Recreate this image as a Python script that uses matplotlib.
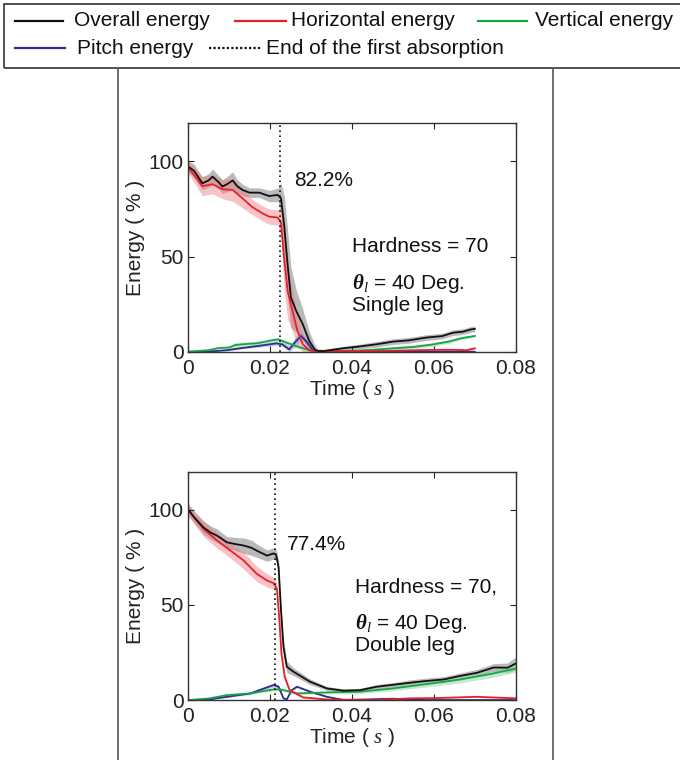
import matplotlib
matplotlib.use("Agg")
import matplotlib.pyplot as plt
import numpy as np
from matplotlib.lines import Line2D
from matplotlib.patches import Rectangle

plt.rcParams['font.family'] = ['Liberation Sans', 'DejaVu Sans']
plt.rcParams['mathtext.fontset'] = 'custom'
plt.rcParams['mathtext.it'] = 'Liberation Serif:italic'
plt.rcParams['mathtext.bf'] = 'Liberation Serif:italic:bold'
plt.rcParams['mathtext.rm'] = 'Liberation Sans'

FS = 15
C_BLACK = '#111111'
C_RED = '#e8202a'
C_GREEN = '#17a548'
C_BLUE = '#2b2f92'

# ---- single leg (top panel) ----
top_black_t = [0, 0.0015, 0.0035, 0.0050, 0.006, 0.0075, 0.0084, 0.0095, 0.0109, 0.012, 0.0133,
               0.015, 0.0174, 0.0198, 0.0219, 0.0227, 0.0235, 0.0243, 0.0251, 0.0264, 0.028,
               0.0296, 0.0309, 0.0317, 0.033, 0.0378, 0.042, 0.046, 0.050, 0.054, 0.058, 0.062,
               0.0647, 0.067, 0.0692, 0.070]
top_black_e = [97.4, 95, 88.5, 90, 92, 89, 86.8, 88, 90, 87, 85,
               83.6, 83.6, 81.8, 82.4, 80.6, 65.6, 46, 28.6, 21.5, 14.5,
               5.6, 1.2, 0.4, 0.3, 1.8, 2.8, 3.9, 5.3, 6, 7.4, 8.2,
               10, 10.5, 11.8, 12]
top_black_sd = [3, 3.5, 3.5, 3.5, 4, 3.5, 3.5, 4, 4.5, 3.5, 3,
                2.5, 2.5, 3, 3.5, 8, 16, 18, 16, 11, 8,
                5, 2.5, 1, 1, 1, 1.2, 1.5, 1.5, 1.5, 1.5, 1.5,
                1.5, 1.5, 1.5, 1.5]

top_red_t = [0, 0.0035, 0.006, 0.0084, 0.0109, 0.0133, 0.0157, 0.0182, 0.0198, 0.0219, 0.0227,
             0.0235, 0.0243, 0.0251, 0.0259, 0.0267, 0.028, 0.0296, 0.032, 0.04, 0.05, 0.06,
             0.065, 0.068, 0.07]
top_red_e = [97, 87, 88, 85.4, 85, 80.6, 76, 72.7, 71, 70.5, 68,
             48, 32, 25, 18, 11, 4, 0.7, 0.3, 0.3, 0.5, 1,
             1, 0.8, 1.8]
top_red_sd = [3, 5, 5, 5, 6, 5, 4, 4, 4, 4, 8,
              16, 15, 12, 10, 8, 5, 2, 0.5, 0.5, 0.5, 0.5,
              0.5, 0.5, 0.5]

top_green_t = [0, 0.005, 0.0075, 0.01, 0.0115, 0.0133, 0.017, 0.0205, 0.022, 0.024, 0.027,
               0.03, 0.032, 0.035, 0.04, 0.045, 0.05, 0.055, 0.06, 0.064, 0.0665, 0.07]
top_green_e = [0, 0.8, 2, 2.2, 3.5, 3.9, 4.5, 6.0, 6.5, 4.8, 2.5,
               0.7, 0.2, 0.3, 0.5, 1, 1.8, 2.5, 3.9, 5.5, 7, 8.3]
top_green_sd = [0, 0.3, 0.5, 0.8, 1.5, 1, 1, 1, 1, 1, 1,
                0.5, 0.3, 0.3, 0.5, 0.8, 1, 1, 1, 1, 0.8, 0.8]

top_blue_t = [0, 0.005, 0.0095, 0.0133, 0.018, 0.0215, 0.023, 0.0247, 0.0264, 0.0276, 0.0288,
              0.0305, 0.032, 0.04, 0.07]
top_blue_e = [0, 0.1, 0.8, 2, 3.3, 4.4, 3.9, 1.2, 5.6, 8.3, 5.6,
              0.7, 0.1, 0, 0]
top_blue_sd = [0, 0.2, 0.3, 0.5, 0.8, 1, 1, 2, 2.5, 2, 1.5,
               0.5, 0.2, 0, 0]

# ---- double leg (bottom panel) ----
bot_black_t = [0, 0.0015, 0.0038, 0.0055, 0.0071, 0.0095, 0.0115, 0.0136, 0.0155, 0.0168, 0.0193,
               0.0209, 0.0215, 0.0221, 0.0227, 0.0233, 0.0241, 0.0258, 0.0298, 0.0339, 0.038,
               0.042, 0.0461, 0.050, 0.0542, 0.058, 0.0624, 0.066, 0.0705, 0.0746, 0.078, 0.080]
bot_black_e = [100.3, 96, 90.7, 88, 86.4, 82.9, 82, 81.2, 80, 78.5, 75.9,
               77.1, 76.4, 69.8, 47, 27.9, 17.5, 14.8, 9.6, 6.1, 4.9,
               5.2, 7, 8, 9.1, 10, 10.8, 12.5, 14.3, 17.1, 17, 19.2]
bot_black_sd = [3, 3, 3.5, 3.5, 3.5, 3, 3.5, 4, 4, 3.5, 3,
                3, 3, 3.5, 4, 4, 3, 2, 1.5, 1, 1,
                1, 1.2, 1.2, 1.5, 1.5, 1.5, 1.5, 1.8, 2, 2.5, 3.5]

bot_red_t = [0, 0.0038, 0.0071, 0.0104, 0.0136, 0.0168, 0.0193, 0.0209, 0.0217, 0.0223, 0.0228,
             0.0236, 0.0248, 0.0281, 0.0339, 0.046, 0.0542, 0.06, 0.0705, 0.080]
bot_red_e = [100, 89.9, 83.8, 78.5, 73.3, 66.3, 62.8, 61.4, 58.5, 41.9, 24.4,
             12.2, 5.2, 1.4, 0.3, 0, 0.9, 1, 1.7, 0.9]
bot_red_sd = [3, 4, 4, 4, 4.5, 4, 3.5, 3, 3, 3, 3,
              2, 1, 0.5, 0.3, 0.3, 0.3, 0.3, 0.3, 0.3]

bot_green_t = [0, 0.005, 0.0095, 0.0152, 0.0209, 0.0225, 0.0266, 0.0339, 0.042, 0.050, 0.0583,
               0.0665, 0.0746, 0.080]
bot_green_e = [0, 0.8, 2.6, 3.5, 5.6, 5.6, 3.5, 4, 4.4, 6.1, 8.4,
               10.8, 14, 16.6]
bot_green_sd = [0, 0.3, 0.5, 0.5, 0.8, 0.8, 0.5, 0.8, 1, 1.2, 1.5,
                1.8, 2, 2]

bot_blue_t = [0, 0.005, 0.0095, 0.0152, 0.0209, 0.0221, 0.0233, 0.0241, 0.0253, 0.0266, 0.0298,
              0.0339, 0.038, 0.050, 0.058, 0.080]
bot_blue_e = [0, 0.3, 1.7, 3.5, 7.9, 7, 0.9, 0.3, 5.2, 7, 4.4,
              1.7, 0, 0.7, 0, 0]
bot_blue_sd = [0, 0.2, 0.4, 0.6, 1, 1, 0.5, 0.3, 0.5, 0.5, 0.4,
               0.3, 0, 0.1, 0, 0]

panels = [
    {
        'rect': [0.2765, 0.5372, 0.482, 0.3005],
        'absorb_t': 0.0225,
        'peak_label': '82.2%', 'peak_pos': (0.026, 90),
        'info': ['Hardness = 70', 'Single leg'],
        'info_pos': (0.0400, 55.5, 36, 24.5),
        'series': [
            (top_black_t, top_black_e, top_black_sd, C_BLACK, '#8c8c8c', 0.6),
            (top_red_t, top_red_e, top_red_sd, C_RED, '#ef7b80', 0.45),
            (top_green_t, top_green_e, top_green_sd, C_GREEN, '#8fd39f', 0.5),
            (top_blue_t, top_blue_e, top_blue_sd, C_BLUE, '#8c90c8', 0.5),
        ],
    },
    {
        'rect': [0.2765, 0.0789, 0.482, 0.3004],
        'absorb_t': 0.0213,
        'peak_label': '77.4%', 'peak_pos': (0.0241, 82),
        'info': ['Hardness = 70,', 'Double leg'],
        'info_pos': (0.0407, 59.5, 40, 28.5),
        'series': [
            (bot_black_t, bot_black_e, bot_black_sd, C_BLACK, '#8c8c8c', 0.6),
            (bot_red_t, bot_red_e, bot_red_sd, C_RED, '#ef7b80', 0.45),
            (bot_green_t, bot_green_e, bot_green_sd, C_GREEN, '#8fd39f', 0.5),
            (bot_blue_t, bot_blue_e, bot_blue_sd, C_BLUE, '#8c90c8', 0.5),
        ],
    },
]


def draw_panel(fig, p):
    ax = fig.add_axes(p['rect'])
    # shaded bands first, then the mean lines on top
    for t, e, sd, color, band, alpha in p['series']:
        t = np.array(t)
        e = np.array(e)
        sd = np.array(sd)
        ax.fill_between(t, np.clip(e - sd, 0, None), e + sd, color=band, alpha=alpha, lw=0)
    for t, e, sd, color, band, alpha in reversed(p['series']):
        ax.plot(t, e, color=color, lw=1.3)
    ax.axvline(p['absorb_t'], color='#111111', ls=(0, (1, 2)), lw=1.2)

    ax.set_xlim(0, 0.08)
    ax.set_ylim(0, 120)
    ax.set_xticks([0, 0.02, 0.04, 0.06, 0.08])
    ax.set_xticklabels(['0', '0.02', '0.04', '0.06', '0.08'])
    ax.set_yticks([0, 50, 100])
    ax.tick_params(direction='in', top=True, right=True, labelsize=FS,
                   length=4, width=0.8, colors='#222222')
    ax.tick_params(axis='x', pad=5)
    ax.tick_params(axis='y', pad=3)
    for s in ax.spines.values():
        s.set_color('#333333')
        s.set_linewidth(1.0)
    ax.set_xlabel('Time ( $s$ )', fontsize=FS, color='#222222', labelpad=0)
    ax.set_ylabel('Energy ( % )', fontsize=FS, color='#222222', labelpad=3)

    px, py = p['peak_pos']
    ax.text(px, py, p['peak_label'], fontsize=FS, va='center', ha='left', color='#111111')
    ix, y1, y2, y3 = p['info_pos']
    ax.text(ix, y1, p['info'][0], fontsize=FS, va='center', ha='left', color='#111111')
    ax.text(ix, y2, r'$\mathbf{\theta}_{\mathit{l}}$ = 40 Deg.', fontsize=FS,
            va='center', ha='left', color='#111111')
    ax.text(ix, y3, p['info'][1], fontsize=FS, va='center', ha='left', color='#111111')
    return ax


def px2fig(x, y):
    return x / 680, 1 - y / 760


def draw_header(fig):
    # legend box and table frame lines
    x0, y0 = px2fig(4, 68)
    fig.add_artist(Rectangle((x0, y0), 1.2, 1 - y0 - 4 / 760, transform=fig.transFigure,
                             fill=False, ec='#333333', lw=1.2))
    for xv in [118, 553]:
        xa, ya = px2fig(xv, 68)
        fig.add_artist(Line2D([xa, xa], [0, ya], transform=fig.transFigure,
                              color='#555555', lw=1.2))

    items = [
        (15, 63, 74, 21, C_BLACK, '-', 'Overall energy'),
        (235, 286, 291, 21, C_RED, '-', 'Horizontal energy'),
        (478, 527, 535, 21, C_GREEN, '-', 'Vertical energy'),
        (15, 65, 77, 48, C_BLUE, '-', 'Pitch energy'),
        (209, 262, 266, 48, '#111111', (0, (1, 1)), 'End of the first absorption'),
    ]
    for xa, xb, xt, yy, color, ls, label in items:
        (fa, fy), (fb, _) = px2fig(xa, yy), px2fig(xb, yy)
        fig.add_artist(Line2D([fa, fb], [fy, fy], transform=fig.transFigure,
                              color=color, ls=ls, lw=1.6))
        ft, _ = px2fig(xt, yy)
        fig.text(ft, fy, label, fontsize=FS, va='center', ha='left', color='#111111')


def main():
    fig = plt.figure(figsize=(6.8, 7.6), dpi=100)
    draw_header(fig)
    for p in panels:
        draw_panel(fig, p)
    fig.savefig('out.png', dpi=100)


if __name__ == "__main__":
    main()
